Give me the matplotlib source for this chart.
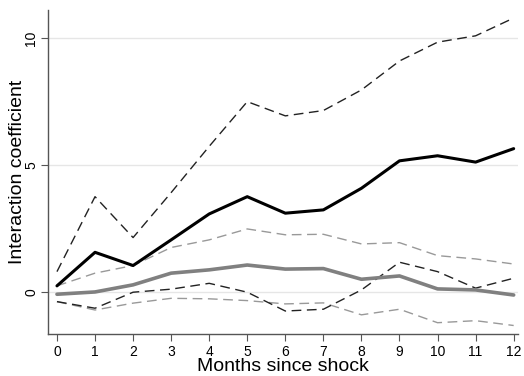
import matplotlib
matplotlib.use("Agg")
import matplotlib.pyplot as plt
import numpy as np

plt.rcParams['font.family'] = ['Liberation Sans', 'DejaVu Sans']

months = list(range(13))
# black series: estimate with confidence band
est_a = [0.25, 1.57, 1.05, 2.06, 3.08, 3.76, 3.11, 3.24, 4.09, 5.17, 5.37, 5.12, 5.65]
hi_a = [0.81, 3.76, 2.15, 3.92, 5.74, 7.50, 6.94, 7.15, 7.96, 9.10, 9.84, 10.09, 10.79]
lo_a = [-0.37, -0.63, 0.00, 0.12, 0.35, 0.00, -0.74, -0.67, 0.09, 1.18, 0.81, 0.16, 0.55]
# gray series: estimate with confidence band
est_b = [-0.08, 0.01, 0.29, 0.75, 0.88, 1.07, 0.91, 0.93, 0.51, 0.64, 0.13, 0.09, -0.11]
hi_b = [0.25, 0.75, 1.05, 1.76, 2.06, 2.49, 2.26, 2.28, 1.90, 1.95, 1.44, 1.31, 1.11]
lo_b = [-0.37, -0.70, -0.43, -0.24, -0.26, -0.33, -0.46, -0.42, -0.89, -0.67, -1.20, -1.12, -1.31]

fig = plt.figure(figsize=(5.24, 3.76), dpi=100)
ax = fig.add_axes([0.092, 0.112, 0.897, 0.861])

dash = (0, (7, 4))
ax.plot(months, hi_b, color='#999999', lw=1.0, linestyle=dash)
ax.plot(months, lo_b, color='#999999', lw=1.0, linestyle=dash)
ax.plot(months, hi_a, color='#222222', lw=1.0, linestyle=dash)
ax.plot(months, lo_a, color='#222222', lw=1.0, linestyle=dash)
ax.plot(months, est_b, color='#808080', lw=2.6, solid_capstyle='round')
ax.plot(months, est_a, color='black', lw=2.2, solid_capstyle='round')

ax.set_xlim(-0.23, 12.12)
ax.set_ylim(-1.64, 11.1)
ax.set_xticks(months)
ax.set_yticks([0, 5, 10])
ax.grid(axis='y', color='#e6e6e6', lw=1.0)
ax.set_axisbelow(True)
for s in ['top', 'right']:
    ax.spines[s].set_visible(False)
for s in ['left', 'bottom']:
    ax.spines[s].set_color('#555555')
    ax.spines[s].set_linewidth(1.0)
ax.tick_params(colors='#555555', labelcolor='black', labelsize=10, length=5, pad=3)
ax.tick_params(axis='y', pad=2)
for lab in ax.get_yticklabels():
    lab.set_rotation(90)
    lab.set_va('center')
ax.set_xlabel('Months since shock', fontsize=14, labelpad=-1)
ax.set_ylabel('Interaction coefficient', fontsize=14, labelpad=-1)

fig.savefig('out.png', dpi=100)
